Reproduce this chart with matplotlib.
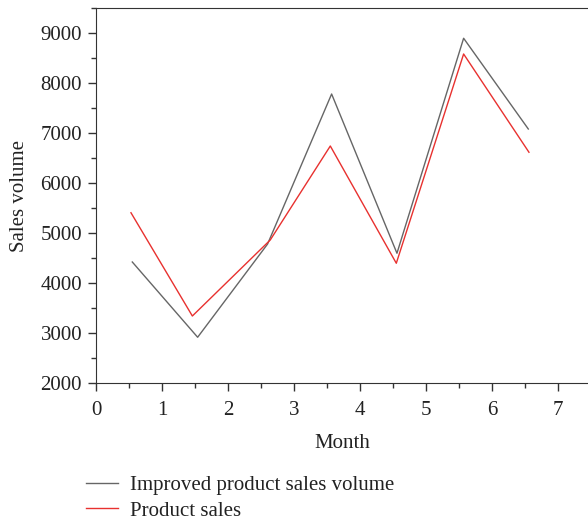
#Sales volume by month: improved product vs product sales
import numpy as np
import matplotlib.pyplot as plt
from matplotlib.ticker import MultipleLocator

#Data
month_improved = [0.55, 1.54, 2.6, 3.57, 4.56, 5.57, 6.55]
improved_sales = [4420, 2915, 4780, 7780, 4595, 8895, 7080]
month_product = [0.53, 1.46, 2.64, 3.55, 4.55, 5.57, 6.56]
product_sales = [5405, 3340, 4860, 6740, 4395, 8580, 6615]

plt.rcParams['font.family'] = ['Liberation Serif', 'DejaVu Serif']
plt.rcParams['font.size'] = 15

fig = plt.figure(figsize=(5.88, 5.21), dpi=100)
ax = fig.add_axes([96/588, 1-383/521, 1-96/588, (383-8)/521])

ax.plot(month_improved, improved_sales, color='#666666', lw=1.0, label='Improved product sales volume')
ax.plot(month_product, product_sales, color='#e8312f', lw=1.0, label='Product sales')

ax.set_xlim(0, 492/66)
ax.set_ylim(2000, 9500)
ax.xaxis.set_major_locator(MultipleLocator(1))
ax.xaxis.set_minor_locator(MultipleLocator(0.5))
ax.yaxis.set_major_locator(MultipleLocator(1000))
ax.yaxis.set_minor_locator(MultipleLocator(500))
ax.tick_params(which='major', direction='out', length=6, width=1, color='#333333', labelcolor='#222222')
ax.tick_params(axis='x', which='major', pad=7)
ax.tick_params(axis='y', which='major', pad=4)
ax.tick_params(which='minor', direction='out', length=3.5, width=1, color='#333333')
ax.spines['right'].set_visible(False)
for s in ['left', 'bottom', 'top']:
    ax.spines[s].set_color('#333333')

ax.set_xlabel('Month', color='#222222', labelpad=10)
ax.set_ylabel('Sales volume', color='#222222', labelpad=8)

fig.legend(loc='upper left', bbox_to_anchor=(78/588, 1-467/521), frameon=False,
           handlelength=1.5, handletextpad=0.6, labelspacing=0.3, labelcolor='#222222',
           borderaxespad=0)

fig.savefig('out.png', dpi=100)
